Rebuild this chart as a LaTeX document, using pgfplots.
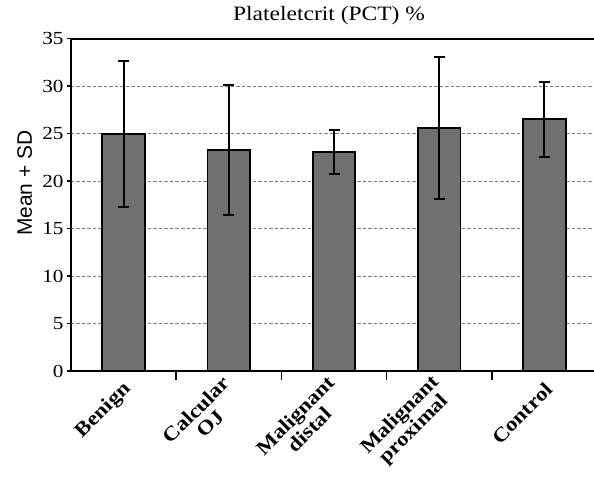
\documentclass[border=0pt]{standalone}
\usepackage{pgfplots}
\pgfplotsset{compat=1.18}
\usepackage{fontspec}
\setmainfont{Liberation Serif}[FakeStretch=1.15]
\newfontfamily\sansf{Liberation Sans}
\definecolor{barfill}{RGB}{112,112,112}
\definecolor{gridc}{RGB}{128,128,128}
\begin{document}
\begin{tikzpicture}
\begin{axis}[
  name=ax,
  scale only axis,
  width=526bp, height=332.3bp,
  xmin=-0.5, xmax=4.5, ymin=0, ymax=35,
  clip=false,
  ytick={0,5,...,35},
  xtick={0,1,2,3,4},
  xticklabels={Benign,{Calcular\\OJ},{Malignant\\distal},{Malignant\\proximal},Control},
  minor xtick={0.5,1.5,2.5,3.5},
  axis lines*=left,
  axis line style={line width=1.8bp},
  tick align=outside,
  major tick length=4bp,
  minor tick length=9bp,
  every tick/.style={black, line width=1.6bp},
  major x tick style={draw=none},
  ymajorgrids,
  grid style={gridc, line width=0.8bp, dash pattern=on 3.5bp off 2bp},
  /pgf/number format/assume math mode=true,
  yticklabel style={font=\fontsize{18.5}{18.5}\selectfont},
  xticklabel style={xshift=7bp, yshift=-9bp, font=\bfseries\fontsize{20}{20}\selectfont, rotate=45, anchor=east, align=center},
  title={Plateletcrit (PCT) \%},
  title style={font=\fontsize{20.5}{20.5}\selectfont, at={(0.5,1)}, anchor=base, yshift=12bp, xshift=-5bp},
  ylabel={Mean + SD},
  ylabel style={font=\sansf\fontsize{21}{21}\selectfont, at={(rel axis cs:-0.088,0.565)}, anchor=center},
]
\addplot[ybar, bar width=0.405, fill=barfill, draw=black, line width=1.8bp,
  error bars/.cd, y dir=both, y explicit,
  error bar style={line width=2bp, black},
  error mark options={rotate=90, line width=2bp, mark size=5.5bp, black}]
  coordinates {
  (0,25.0) +- (0,7.7)
  (1,23.3) +- (0,6.85)
  (2,23.05) +- (0,2.35)
  (3,25.6) +- (0,7.5)
  (4,26.5) +- (0,3.93)
  };
\draw[line width=1.8bp] (rel axis cs:0,1) -- (rel axis cs:1,1);
\end{axis}
\pgfresetboundingbox
\path ([xshift=-71bp,yshift=-114bp]ax.south west) rectangle ([xshift=-3bp,yshift=38.7bp]ax.north east);
\end{tikzpicture}
\end{document}
